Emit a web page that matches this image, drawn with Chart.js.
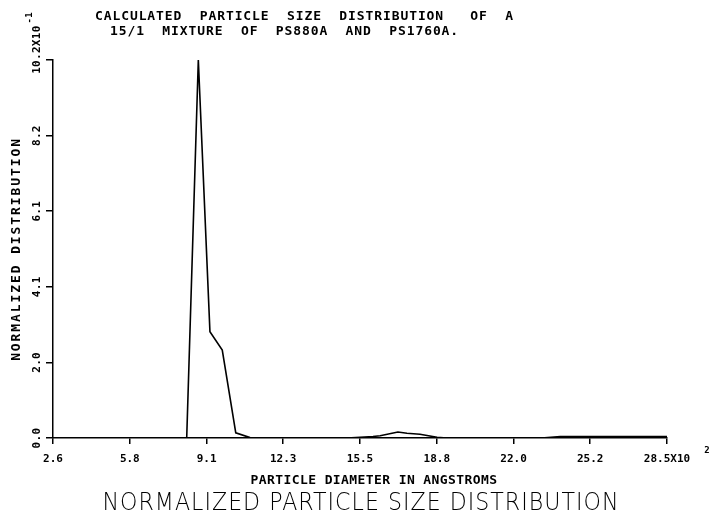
<!DOCTYPE html>
<html>
<head>
<meta charset="utf-8">
<script src="https://cdn.jsdelivr.net/npm/chart.js@4.4.1/dist/chart.umd.min.js"></script>
<style>
  body { margin: 0; background: #fff; }
  canvas { display: block; }
</style>
</head>
<body>
<canvas id="psd" width="711" height="522"></canvas>
<script>
// diameters in units of 10^2 angstroms, distribution in units of 10^-1
const diameters = [2.6, 8.24, 8.73, 9.22, 9.74, 10.31, 10.91, 15.0, 16.1, 16.4, 17.15, 17.53, 18.08, 18.8, 19.22, 23.2, 24.0, 28.5];
const values = [0, 0, 10.2, 2.87, 2.37, 0.14, 0.01, 0, 0.04, 0.06, 0.16, 0.13, 0.10, 0.02, 0, 0, 0.04, 0.04];

const xTickValues = [2.6, 5.84, 9.08, 12.31, 15.55, 18.79, 22.03, 25.26, 28.5];
const xTickLabels = ['2.6', '5.8', '9.1', '12.3', '15.5', '18.8', '22.0', '25.2', '28.5X10'];
const yTickValues = [0, 2.04, 4.08, 6.12, 8.16, 10.2];
const yTickLabels = ['0.0', '2.0', '4.1', '6.1', '8.2', '10.2'];

const titleLines = ['CALCULATED  PARTICLE  SIZE  DISTRIBUTION   OF  A', '15/1  MIXTURE  OF  PS880A  AND  PS1760A.'];
const xTitle = 'PARTICLE DIAMETER IN ANGSTROMS';
const yTitle = 'NORMALIZED DISTRIBUTION';
const caption = 'NORMALIZED PARTICLE SIZE DISTRIBUTION';

const mono = '"DejaVu Sans Mono", "Liberation Mono", monospace';

function spaced(ctx, px) {
    if ('letterSpacing' in ctx) ctx.letterSpacing = px + 'px';
}

const textPlugin = {
    id: 'plotterText',
    afterDraw(chart) {
        const ctx = chart.ctx;
        const ys = chart.scales.y;
        const xs = chart.scales.x;
        ctx.save();
        ctx.fillStyle = '#000';

        // title
        ctx.font = 'bold 13px ' + mono;
        spaced(ctx, 0.9);
        ctx.textBaseline = 'middle';
        ctx.textAlign = 'left';
        ctx.fillText(titleLines[0], 95, 17);
        ctx.fillText(titleLines[1], 110, 32);

        // y tick labels, rotated
        ctx.font = 'bold 11px ' + mono;
        spaced(ctx, 0.3);
        const last = yTickLabels.length - 1;
        ys.ticks.forEach((t, i) => {
            const py = ys.getPixelForTick(i);
            const label = yTickLabels[i];
            ctx.save();
            ctx.translate(37, py);
            ctx.rotate(-Math.PI / 2);
            const w = ctx.measureText(label).width;
            const full = i === last ? label + 'X10' : label;
            ctx.textAlign = 'left';
            ctx.textBaseline = 'middle';
            ctx.fillText(full, -w / 2, 0);
            if (i === last) {
                const fw = ctx.measureText(full).width;
                ctx.font = 'bold 9px ' + mono;
                ctx.fillText('-1', -w / 2 + fw + 2, -7);
            }
            ctx.restore();
        });

        // x exponent
        spaced(ctx, 0);
        ctx.font = 'bold 11px ' + mono;
        const lastX = xTickLabels.length - 1;
        const lw = ctx.measureText(xTickLabels[lastX]).width;
        const lx = xs.getPixelForTick(lastX);
        ctx.font = 'bold 9px ' + mono;
        ctx.textAlign = 'left';
        ctx.fillText('2', lx + lw / 2 + 14, 451);

        // y axis title
        ctx.save();
        ctx.font = 'bold 13px ' + mono;
        spaced(ctx, 1.9);
        ctx.translate(17, (chart.chartArea.top + chart.chartArea.bottom) / 2);
        ctx.rotate(-Math.PI / 2);
        ctx.textAlign = 'center';
        ctx.fillText(yTitle, 0, 0);
        ctx.restore();

        // x axis title
        ctx.font = 'bold 13px ' + mono;
        spaced(ctx, 0.4);
        ctx.textAlign = 'center';
        ctx.fillText(xTitle, 374, 481);

        // caption, thin face stretched to the reference width
        spaced(ctx, 1);
        ctx.font = '200 22px "DejaVu Sans", "Noto Sans", sans-serif';
        const cw = ctx.measureText(caption).width;
        ctx.save();
        ctx.translate(361, 504);
        ctx.scale(517 / cw, 1.1);
        ctx.fillText(caption, 0, 0);
        ctx.restore();

        spaced(ctx, 0);
        ctx.restore();
    }
};

const graph = new Chart(document.getElementById('psd'), {
    type: 'line',
    data: {
        datasets: [{
            data: diameters.map((d, i) => ({ x: d, y: values[i] })),
            borderColor: '#000',
            borderWidth: 1.6,
            pointRadius: 0,
            tension: 0,
            fill: false
        }]
    },
    options: {
        responsive: false,
        animation: false,
        devicePixelRatio: 1,
        layout: { padding: { top: 60, right: 44, left: 0, bottom: 0 } },
        plugins: {
            legend: { display: false },
            tooltip: { enabled: false }
        },
        scales: {
            x: {
                type: 'linear',
                min: 2.6,
                max: 28.5,
                afterBuildTicks: s => { s.ticks = xTickValues.map(v => ({ value: v })); },
                afterFit: s => { s.height = 84; },
                ticks: {
                    autoSkip: false,
                    maxRotation: 0,
                    padding: 9,
                    color: '#000',
                    font: { family: mono, weight: 'bold', size: 11 },
                    callback: (v, i) => xTickLabels[i]
                },
                grid: { drawOnChartArea: false, drawTicks: true, tickLength: 6, color: '#000', lineWidth: 1.5 },
                border: { display: true, color: '#000', width: 1.5 }
            },
            y: {
                type: 'linear',
                min: 0,
                max: 10.2,
                afterBuildTicks: s => { s.ticks = yTickValues.map(v => ({ value: v })); },
                afterFit: s => { s.width = 53; },
                ticks: { display: false },
                grid: { drawOnChartArea: false, drawTicks: true, tickLength: 7, color: '#000', lineWidth: 1.5 },
                border: { display: true, color: '#000', width: 1.5 }
            }
        }
    },
    plugins: [textPlugin]
});
</script>
</body>
</html>
